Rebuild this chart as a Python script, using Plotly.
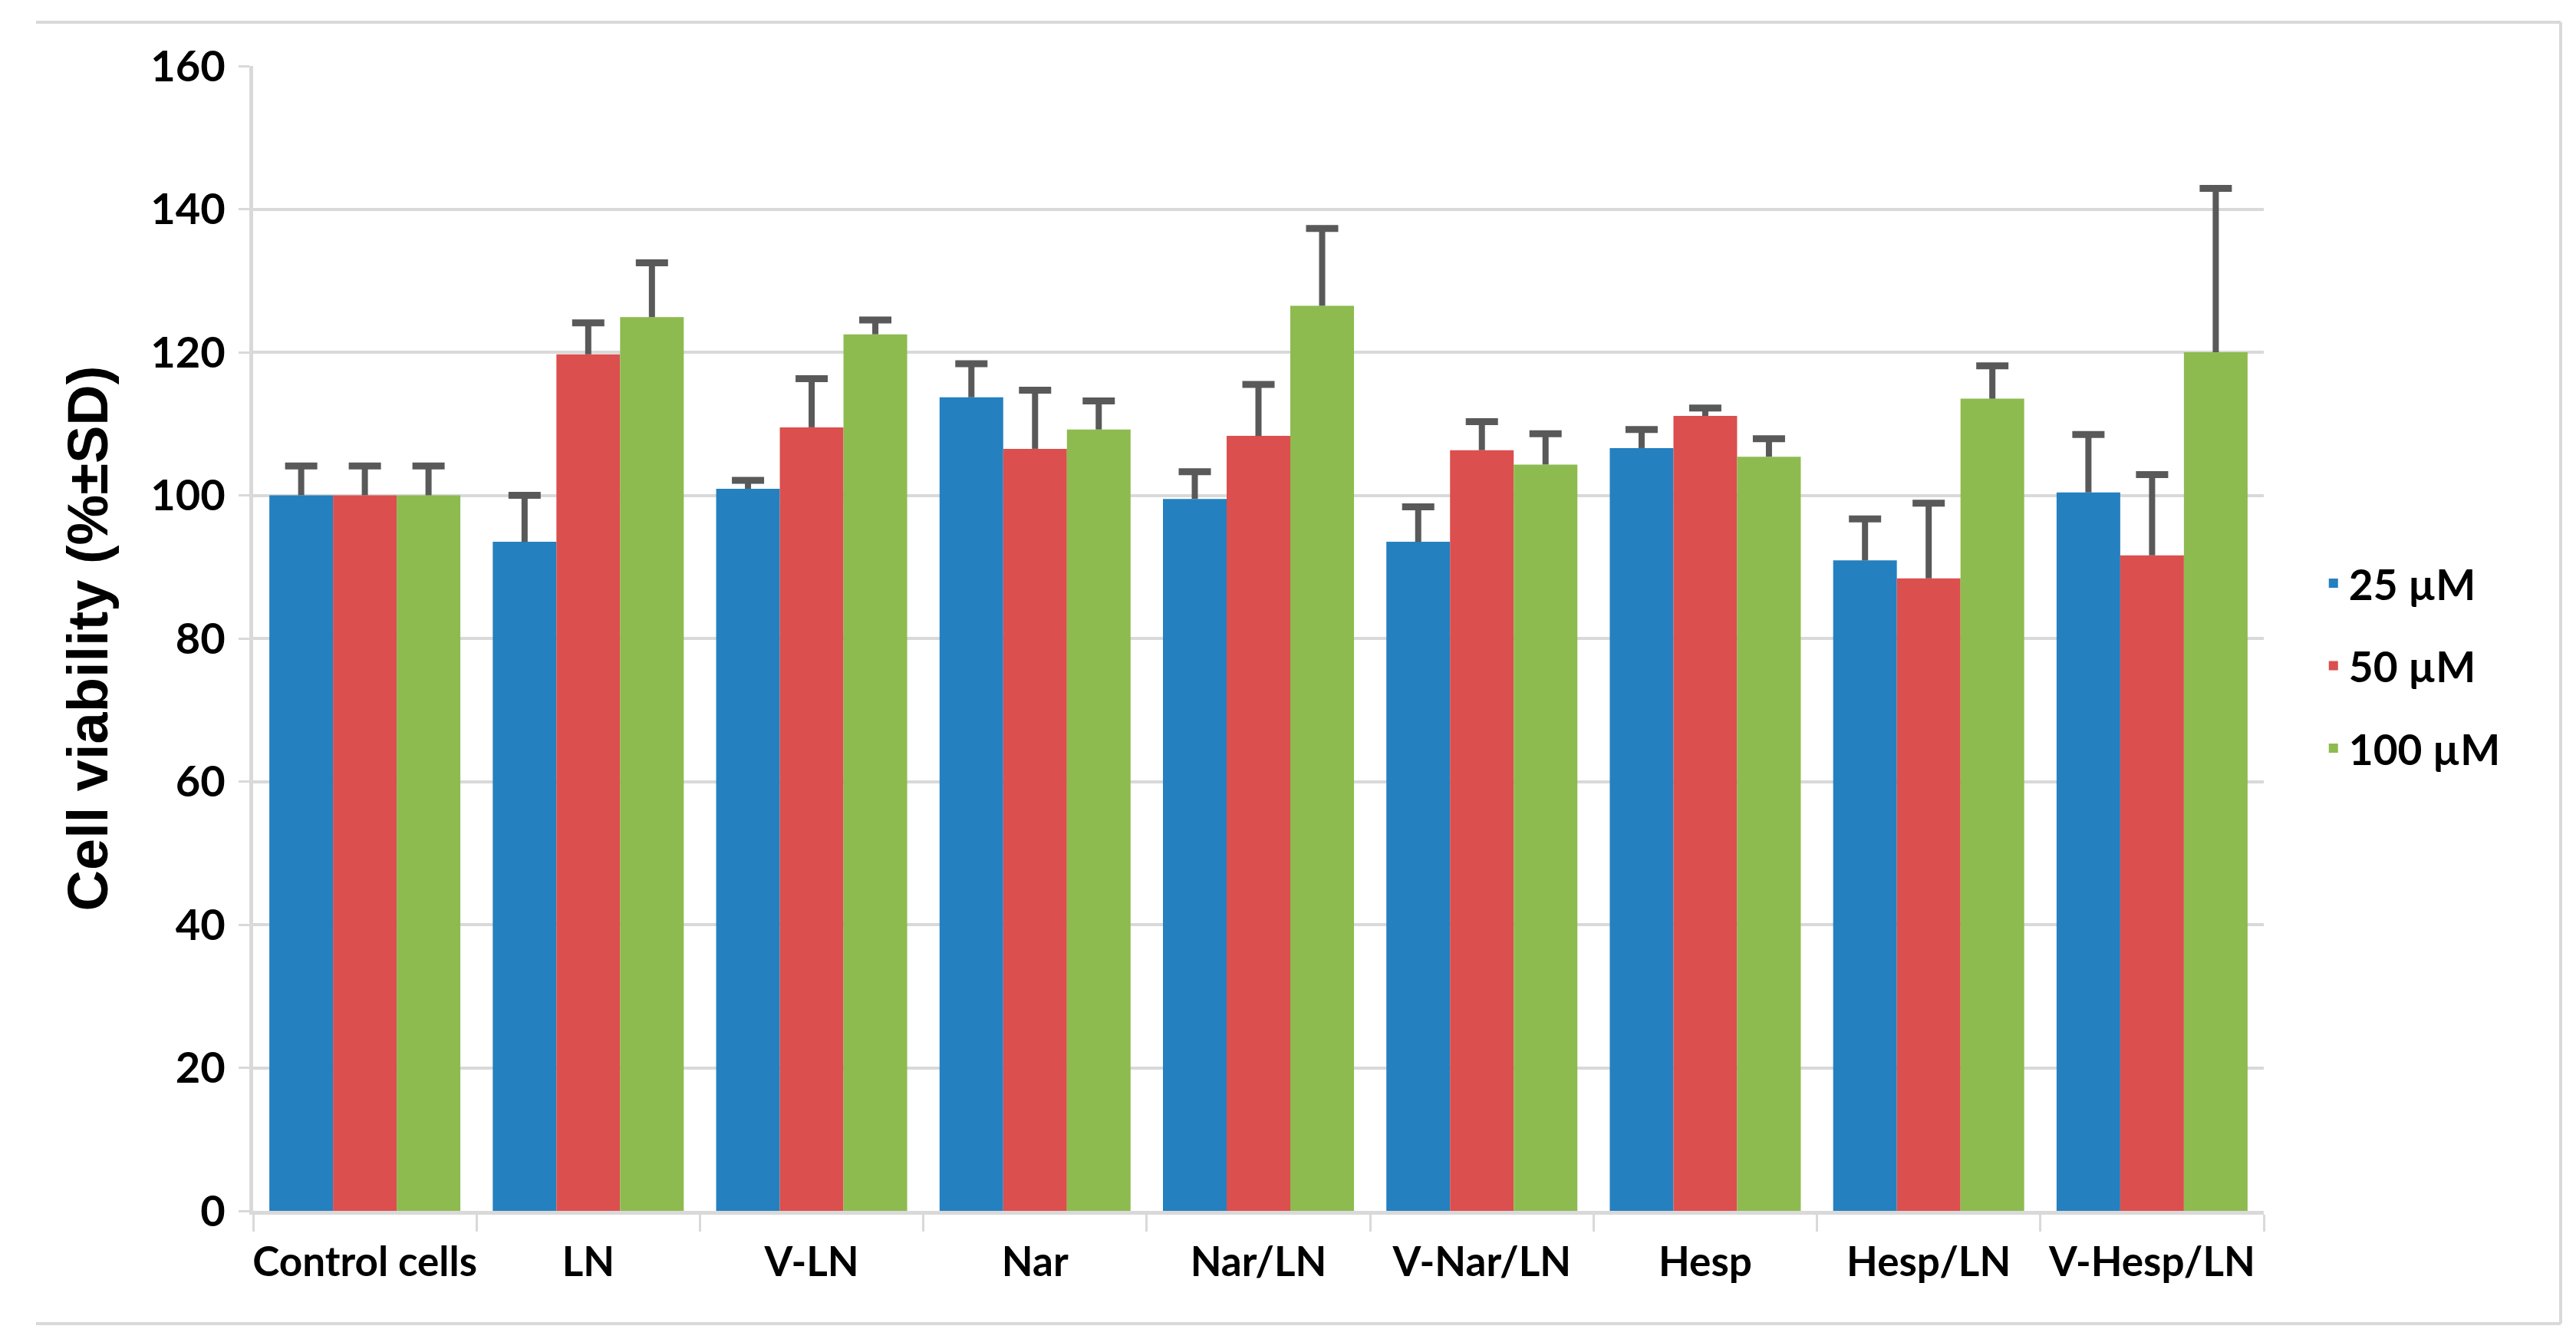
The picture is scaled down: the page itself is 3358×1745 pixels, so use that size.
import plotly.graph_objects as go

categories = ["Control cells", "LN", "V-LN", "Nar", "Nar/LN", "V-Nar/LN", "Hesp", "Hesp/LN", "V-Hesp/LN"]
series_names = ["25 µM", "50 µM", "100 µM"]
vals_25 = [100, 93.5, 100.9, 113.7, 99.5, 93.5, 106.6, 90.9, 100.4]
vals_50 = [100, 119.7, 109.5, 106.5, 108.3, 106.3, 111.1, 88.4, 91.6]
vals_100 = [100, 124.9, 122.5, 109.2, 126.5, 104.3, 105.4, 113.5, 120.0]
sd_25 = [4.1, 6.5, 1.2, 4.7, 3.8, 4.9, 2.6, 5.8, 8.1]
sd_50 = [4.1, 4.4, 6.8, 8.2, 7.2, 4.0, 1.1, 10.5, 11.3]
sd_100 = [4.1, 7.6, 2.0, 4.0, 10.8, 4.3, 2.5, 4.6, 22.9]
colors = ["#2580BF", "#DB4F4E", "#8DBB4F"]
y_ticks = [0, 20, 40, 60, 80, 100, 120, 140, 160]

W, H = 3358, 1745
L, R, T, B = 322, 415, 78, 175
GAP = 0.145
ERR_COLOR = "#595959"

fig = go.Figure()
groups = ["g25", "g50", "g100"]
all_vals = [vals_25, vals_50, vals_100]
all_sd = [sd_25, sd_50, sd_100]
for name, vals, sd, col, g in zip(series_names, all_vals, all_sd, colors, groups):
    fig.add_trace(go.Bar(
        x=categories, y=vals, name=name, legendgroup=name, offsetgroup=g,
        marker=dict(color=col, line=dict(width=0)),
        error_y=dict(type="data", array=sd, symmetric=False, arrayminus=[0] * len(sd),
                     color=ERR_COLOR, thickness=8, width=0),
    ))
# caps on top of the upward error bars
for name, vals, sd, g in zip(series_names, all_vals, all_sd, groups):
    fig.add_trace(go.Scatter(
        x=categories, y=[v + s for v, s in zip(vals, sd)], mode="markers",
        offsetgroup=g, showlegend=False, hoverinfo="skip",
        marker=dict(symbol="line-ew", size=30, line=dict(color=ERR_COLOR, width=9)),
    ))

fig.update_layout(
    width=W, height=H,
    margin=dict(l=L, r=R, t=T, b=B, autoexpand=False),
    paper_bgcolor="white", plot_bgcolor="white",
    barmode="group", bargap=GAP, bargroupgap=0,
    scattermode="group", scattergap=GAP,
    showlegend=True,
    legend=dict(x=1.027, xanchor="left", y=0.476, yanchor="middle",
                font=dict(family="Lato", size=55, color="black", weight="bold"),
                tracegroupgap=33, itemwidth=30, bgcolor="rgba(0,0,0,0)"),
    xaxis=dict(
        showline=True, linecolor="#D9D9D9", linewidth=5, automargin=False, tickangle=0,
        ticks="outside", tickson="boundaries", ticklen=22, tickwidth=3, tickcolor="#D9D9D9",
        tickfont=dict(family="Lato", size=53, color="black", weight="bold"),
        ticklabelstandoff=16, showgrid=False,
    ),
    yaxis=dict(
        range=[0, 160], tickvals=y_ticks, showline=True, linecolor="#D9D9D9", linewidth=5,
        automargin=False,
        ticks="outside", ticklen=14, tickwidth=3, tickcolor="#D9D9D9",
        showgrid=True, gridcolor="#D9D9D9", gridwidth=4, zeroline=False,
        tickfont=dict(family="Lato", size=56, color="black", weight="bold"), ticklabelstandoff=6,
        title=dict(text="Cell viability (%±SD)", standoff=33,
                   font=dict(family="Liberation Sans", size=74, color="black", weight="bold")),
    ),
)

pw = W - L - R
ph = H - T - B
def px_x(p):
    return (p - L) / pw
def px_y(p):
    return (H - B - p) / ph

border = dict(type="line", xref="paper", yref="paper", line=dict(color="#D9D9D9", width=4), layer="below")
fig.add_shape(**border, x0=px_x(39), x1=px_x(3330), y0=px_y(21), y1=px_y(21))
fig.add_shape(**border, x0=px_x(39), x1=px_x(3330), y0=px_y(1717), y1=px_y(1717))
fig.add_shape(**border, x0=px_x(3330), x1=px_x(3330), y0=px_y(21), y1=px_y(1717))

fig.write_html("out.html")
